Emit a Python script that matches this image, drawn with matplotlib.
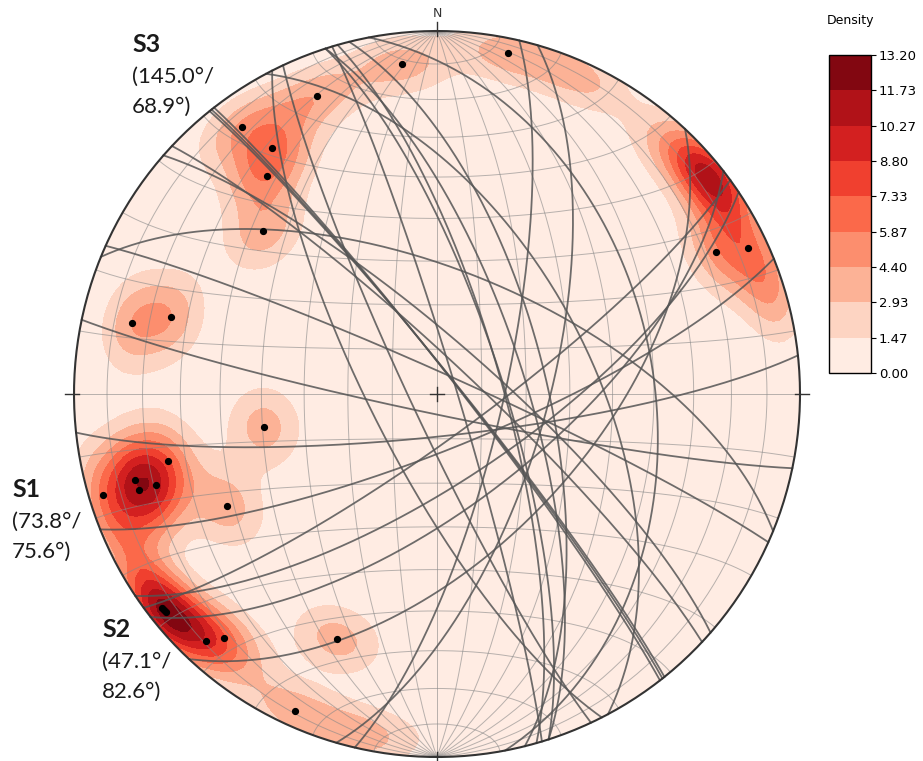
import numpy as np
import matplotlib
matplotlib.use('Agg')
import matplotlib.pyplot as plt
from matplotlib.patches import Circle

# Discontinuity planes (dip direction / dip, degrees)
dip_direction = [173.9, 191.8, 158.1, 143.9, 146.2, 142.1, 133.1, 103.1, 106.1,
                 79.2, 76.0, 74.1, 72.1, 72.1, 73.2, 61.9, 52.1, 51.2, 51.6,
                 43.1, 41.1, 22.2, 24.1, 243.0, 244.9]
dip = [80.5, 85.5, 77.5, 80.2, 70.5, 65.2, 55.3, 75.2, 65.3,
       40.1, 65.4, 75.4, 75.2, 70.2, 85.6, 55.2, 85.5, 85.3, 85.4,
       82.4, 78.2, 62.1, 85.2, 75.2, 84.0]

# joint sets (mean dip direction / dip)
set_names = ['S1', 'S2', 'S3']
set_dipdir = [73.8, 47.1, 145.0]
set_dip = [75.6, 82.6, 68.9]

DENSITY_MAX = 13.2
kappa = 90.0      # concentration of the smoothing kernel
edge_psi = 9.0    # poles flatter than this also count on the opposite side


def line_vec(trend, plunge):
    t, p = np.radians(trend), np.radians(plunge)
    return np.array([np.sin(t) * np.cos(p), np.cos(t) * np.cos(p), np.sin(p)])


def project(v):
    # lower hemisphere equal area (Schmidt) projection, v = (east, north, down)
    v = np.where(v[2] < 0, -v, v)
    s = 1.0 / np.sqrt(1.0 + v[2])
    return v[0] * s, v[1] * s


def plane_curve(dd, d, npts=181):
    s = line_vec(dd - 90, 0)
    dv = line_vec(dd, d)
    phi = np.linspace(0, np.pi, npts)
    v = np.outer(s, np.cos(phi)) + np.outer(dv, np.sin(phi))
    return project(v)


fig = plt.figure(figsize=(9.23, 7.61), dpi=100)
R_PX, CX, CY = 363.0, 437.0, 394.0
LIM = 1.05
ax = fig.add_axes([(CX - LIM * R_PX) / 923, (761 - CY - LIM * R_PX) / 761,
                   2 * LIM * R_PX / 923, 2 * LIM * R_PX / 761])
ax.set_xlim(-LIM, LIM)
ax.set_ylim(-LIM, LIM)
ax.set_aspect('equal')
ax.axis('off')

# density of poles (multiples of uniform density)
poles = np.array([line_vec(a + 180, 90 - b) for a, b in zip(dip_direction, dip)])
mirror = poles * np.array([-1, -1, 1])
psi = np.degrees(np.arcsin(poles[:, 2]))
w_mirror = np.exp(-(psi / edge_psi) ** 4)

gx, gy = np.meshgrid(np.linspace(-1.02, 1.02, 131), np.linspace(-1.02, 1.02, 131))
r = np.hypot(gx, gy)
rc = np.minimum(r, 1.0)
sc = np.where(r > 0, rc / np.maximum(r, 1e-12), 1.0)
z = 1 - rc ** 2
grid_vec = np.stack([gx * sc * np.sqrt(1 + z), gy * sc * np.sqrt(1 + z), z], axis=-1)
dens = (np.exp(kappa * (grid_vec @ poles.T - 1)).sum(axis=-1)
        + (w_mirror * np.exp(kappa * (grid_vec @ mirror.T - 1))).sum(axis=-1))
dens *= kappa / len(poles)
dens = np.clip(dens, 0, DENSITY_MAX)

levels = np.linspace(0, DENSITY_MAX, 10)
prim = Circle((0, 0), 1, transform=ax.transData)
cs = ax.contourf(gx, gy, dens, levels=levels, cmap='Reds')
cs.set_clip_path(prim)

# net grid (10 deg)
for a in range(10, 180, 10):
    # meridians (great circles through N and S)
    x, y = plane_curve(90 if a < 90 else 270, a if a <= 90 else 180 - a)
    ax.plot(x, y, color='#888888', lw=0.7, alpha=0.6)
    # parallels (small circles about the N-S axis)
    b = np.linspace(0, np.pi, 181)
    al = np.radians(a)
    v = np.array([np.sin(al) * np.cos(b), np.full_like(b, np.cos(al)), np.sin(al) * np.sin(b)])
    x, y = project(v)
    ax.plot(x, y, color='#888888', lw=0.7, alpha=0.6)

# planes as great circles
for a, b in zip(dip_direction, dip):
    x, y = plane_curve(a, b)
    ax.plot(x, y, color='#555555', lw=1.3, alpha=0.85)

# poles
px, py = project(poles.T)
ax.plot(px, py, 'o', color='black', ms=4.2, zorder=5)

# primitive circle, ticks and centre cross
t = np.linspace(0, 2 * np.pi, 400)
ax.plot(np.cos(t), np.sin(t), color='#333333', lw=1.5)
for ang in [0, 90, 180, 270]:
    c, s = np.sin(np.radians(ang)), np.cos(np.radians(ang))
    ax.plot([0.985 * c, 1.025 * c], [0.985 * s, 1.025 * s], color='#333333', lw=1.0)
ax.plot([-0.02, 0.02], [0, 0], color='#333333', lw=1.0)
ax.plot([0, 0], [-0.02, 0.02], color='#333333', lw=1.0)
ax.text(0, 1.03, 'N', ha='center', va='bottom', fontsize=9, color='#333333')

# set labels
lab_font = ['Lato', 'DejaVu Sans']
label_pos = [(12, 497), (102, 637), (132, 52)]
for name, a, b, (lx, ly) in zip(set_names, set_dipdir, set_dip, label_pos):
    fig.text(lx / 923, 1 - ly / 761, name, fontsize=18, fontweight='bold',
             family=lab_font, va='baseline', color='#1a1a1a')
    fig.text(lx / 923, 1 - (ly + 31) / 761, '({:.1f}°/'.format(a), fontsize=16,
             family=lab_font, va='baseline', color='#1a1a1a')
    fig.text(lx / 923, 1 - (ly + 61) / 761, '{:.1f}°)'.format(b), fontsize=16,
             family=lab_font, va='baseline', color='#1a1a1a')

# colourbar
cax = fig.add_axes([829 / 923, (761 - 373) / 761, 42 / 923, 318 / 761])
cb = fig.colorbar(cs, cax=cax, ticks=levels, format='%.2f')
cb.ax.tick_params(labelsize=9.5, length=3.5, pad=2)
cb.outline.set_linewidth(1.0)
cax.set_title('Density', fontsize=9, pad=22)

fig.savefig('out.png', dpi=100, facecolor='white')
